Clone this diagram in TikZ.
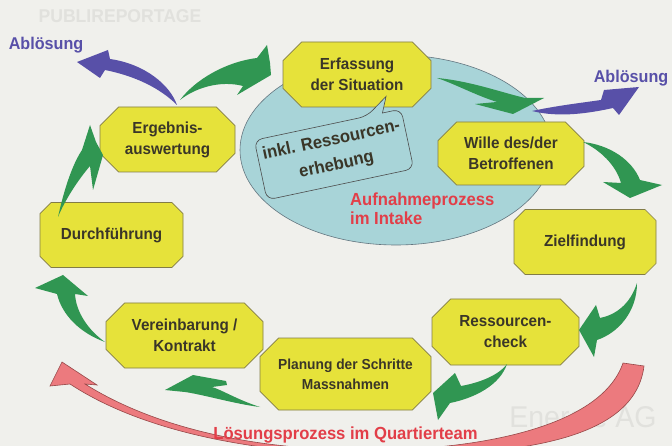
\documentclass[tikz,border=0pt]{standalone}
\usepackage{fontspec}
\setmainfont{Liberation Sans}[FakeStretch=0.95]
\usetikzlibrary{shapes.misc,shapes.geometric}

\definecolor{paper}{RGB}{240,240,236}
\definecolor{ghostink}{RGB}{225,225,221}
\definecolor{boxyellow}{RGB}{230,226,58}
\definecolor{boxedge}{RGB}{130,124,70}
\definecolor{boxink}{RGB}{58,54,40}
\definecolor{swgreen}{RGB}{48,150,82}
\definecolor{swpurple}{RGB}{88,80,168}
\definecolor{swpink}{RGB}{236,122,126}
\definecolor{pinkedge}{RGB}{150,72,72}
\definecolor{intakefill}{RGB}{168,212,216}
\definecolor{intakeedge}{RGB}{100,118,128}
\definecolor{labelred}{RGB}{226,62,72}

\begin{document}
\begin{tikzpicture}[x=1pt,y=-1pt,
  stepbox/.style={chamfered rectangle, chamfered rectangle xsep=15pt,
    fill=boxyellow, draw=boxedge, line width=0.7pt, text=boxink,
    font=\bfseries\fontsize{16}{21}\selectfont, align=center, inner sep=0pt},
  smallstep/.style={stepbox, font=\bfseries\fontsize{14.5}{20}\selectfont},
  callout/.style={fill=intakefill, draw=black!70, line width=0.6pt},
  callouttext/.style={text=boxink, font=\bfseries\fontsize{17.5}{25}\selectfont, align=center, inner sep=0pt},
  redlabel/.style={text=labelred, font=\bfseries\fontsize{17.5}{19}\selectfont, inner sep=0pt},
  exitlabel/.style={text=swpurple, font=\bfseries\fontsize{17}{17}\selectfont, inner sep=0pt},
  ghost/.style={text=ghostink, inner sep=0pt},
  greenswoosh/.style={fill=swgreen},
  purpleswoosh/.style={fill=swpurple},
  pinkswoosh/.style={fill=swpink, draw=pinkedge, line width=0.6pt}]

% paper and frame
\fill[paper] (0,0) rectangle (672,446);
\useasboundingbox (0,0) rectangle (672,446);
\clip (0,0) rectangle (672,446);

% faint print from the reverse side of the page
\node[ghost, font=\bfseries\fontsize{18.5}{18.5}\selectfont] (ghosttop) at (120,16) {PUBLIREPORTAGE};
\node[ghost, font=\fontsize{30}{30}\selectfont] (ghostbottom) at (583,420) {Energie AG};

% intake area
\node[ellipse, minimum width=312pt, minimum height=190pt, fill=intakefill,
      draw=intakeedge, line width=0.6pt, inner sep=0pt] (intake) at (396,150) {};

% process steps
\node[stepbox, minimum width=148pt, minimum height=65pt] (erfassung) at (357,74.5) {Erfassung\\der Situation};
\node[stepbox, minimum width=135pt, minimum height=65pt] (ergebnis) at (167.5,139.5) {Ergebnis-\\auswertung};
\node[stepbox, minimum width=146pt, minimum height=63pt] (wille) at (511,153.5) {Wille des/der\\Betroffenen};
\node[stepbox, minimum width=143pt, minimum height=65pt] (durchfuehrung) at (111.5,235) {Durchführung};
\node[stepbox, minimum width=142pt, minimum height=65pt] (ziel) at (585,242) {Zielfindung};
\node[stepbox, minimum width=157pt, minimum height=65pt] (vereinbarung) at (184.5,335.5) {Vereinbarung /\\Kontrakt};
\node[stepbox, minimum width=147pt, minimum height=66pt] (check) at (505.5,332) {Ressourcen-\\check};
\node[smallstep, minimum width=171pt, minimum height=72pt] (planung) at (345.5,374) {Planung der Schritte\\Massnahmen};

% speech bubble inside the intake area
\begin{scope}[shift={(334,154.5)}, rotate=12]
  \draw[callout, rounded corners=8pt] (-75,0) |- (40,-30.5)
    [sharp corners] -- (63,-46) -- (56,-30.5)
    [rounded corners=8pt] -| (75,0) |- (-75,30.5) -- cycle;
\end{scope}
\node[callouttext, rotate=12] (ressourcen) at (334,153) {inkl. Ressourcen-\\erhebung};

% green swooshes of the cycle
\fill[greenswoosh] (180,100) .. controls (195,80) and (225,62) .. (257,58) -- (267,45)
  -- (270,63) -- (271,75) -- (237,95) -- (243,86) .. controls (220,80) and (195,88) .. (180,100) -- cycle;
\fill[greenswoosh] (437,78) .. controls (470,81) and (500,92) .. (525,98) -- (544,98)
  -- (513,114) -- (475,104) -- (497,102) .. controls (475,95) and (455,84) .. (437,78) -- cycle;
\fill[greenswoosh] (583,142) .. controls (610,145) and (632,160) .. (640,180) -- (662,185)
  -- (630,198) -- (603,182) -- (621,183) .. controls (616,165) and (600,150) .. (583,142) -- cycle;
\fill[greenswoosh] (637,283) .. controls (630,305) and (615,315) .. (600,318) -- (596,305)
  -- (579,330) -- (594,357) -- (597,340) .. controls (618,333) and (637,312) .. (637,283) -- cycle;
\fill[greenswoosh] (507,364) .. controls (498,376) and (478,383) .. (461,386) -- (455,373)
  -- (433,393) -- (438,420) -- (450,403) .. controls (475,398) and (500,385) .. (507,364) -- cycle;
\fill[greenswoosh] (260,407) .. controls (238,400) and (222,390) .. (212,387) -- (227,385)
  -- (226,381) -- (193,375) -- (165,390) -- (185,392) .. controls (205,395) and (235,404) .. (260,407) -- cycle;
\fill[greenswoosh] (105,342) .. controls (80,333) and (62,315) .. (57,294) -- (35,288)
  -- (63,275) -- (88,296) -- (75,294) .. controls (76,312) and (88,330) .. (105,342) -- cycle;
\fill[greenswoosh] (58,217) .. controls (64,190) and (72,165) .. (82,150) -- (90,125)
  -- (96,142) -- (103,155) -- (93,190) -- (90,166) .. controls (78,180) and (65,200) .. (58,217) -- cycle;

% exits of the cycle
\fill[purpleswoosh] (177,105) .. controls (170,85) and (145,64) .. (110,59) -- (108,50)
  -- (77,62) -- (100,78) -- (105,70) .. controls (135,76) and (160,88) .. (177,105) -- cycle;
\fill[purpleswoosh] (532,111) .. controls (555,106) and (580,103) .. (601,100) -- (604,90)
  -- (639,87) -- (619,115) -- (613,108) .. controls (590,113) and (560,118) .. (532,111) -- cycle;

% large return swoosh of the solution process
\filldraw[pinkswoosh] (623,363) -- (644,366) .. controls (635,440) and (520,456) .. (380,455)
  .. controls (250,454) and (140,430) .. (70,384) -- (50,386) -- (62,362) -- (97,385) -- (85,384)
  .. controls (150,425) and (250,452) .. (380,450) .. controls (470,449) and (600,430) .. (623,363) -- cycle;

% labels
\node[redlabel, anchor=west, align=left] (aufnahme) at (350,209) {Aufnahmeprozess\\im Intake};
\node[redlabel] (loesung) at (345.5,435) {Lösungsprozess im Quartierteam};
\node[exitlabel] (abloesunglinks) at (46,45) {Ablösung};
\node[exitlabel] (abloesungrechts) at (631,78) {Ablösung};
\end{tikzpicture}
\end{document}
